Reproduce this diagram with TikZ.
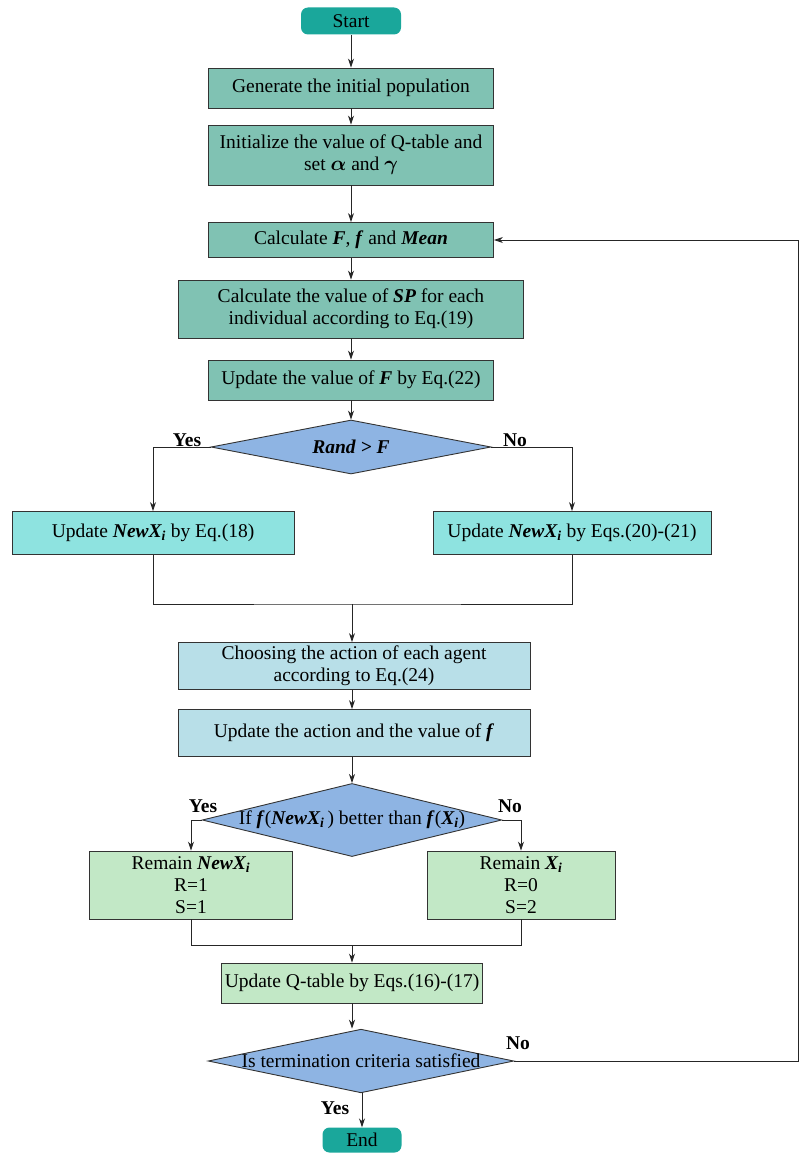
\documentclass[tikz,border=0pt]{standalone}
\usepackage{amsmath}
\usepackage{fontspec}
\setmainfont{Liberation Serif}
\usetikzlibrary{shapes.geometric,arrows.meta}
\definecolor{cstart}{HTML}{1AA79B}
\definecolor{cteal}{HTML}{80C2B3}
\definecolor{cblue}{HTML}{8EB4E3}
\definecolor{ccyan}{HTML}{8EE3E0}
\definecolor{clblue}{HTML}{B8DFE8}
\definecolor{cgreen}{HTML}{C2E8C6}
\begin{document}
\begin{tikzpicture}[x=1pt,y=-1pt,
  every node/.style={font=\fontsize{19.5}{22}\selectfont},
  box/.style={draw=black!80,line width=0.9pt,minimum height=#1,align=center,inner sep=2pt},
  box/.default=40,
  dia/.style={diamond,draw=black!80,fill=cblue,line width=0.9pt,aspect=4.8,inner sep=0pt},
  arr/.style={-{Stealth[length=9pt,width=6pt]},line width=0.9pt,draw=black!85},
  ln/.style={line width=0.9pt,draw=black!85},
  lbl/.style={font=\fontsize{19.5}{22}\selectfont\bfseries}]
\useasboundingbox (0,0) rectangle (811,1161);
\node[fill=cstart,rounded corners=7pt,minimum width=100,minimum height=27] (start) at (351,21) {Start};
\node[box,fill=cteal,minimum width=285] (gen) at (351,88) {Generate the initial population};
\node[box=60,fill=cteal,minimum width=285] (init) at (351,155) {Initialize the value of Q-table and\\set $\boldsymbol{\alpha}$ and $\boldsymbol{\gamma}$};
\node[box=35,fill=cteal,minimum width=285] (calc) at (351,240) {Calculate \textbf{\textit{F}}, \textbf{\textit{f}} and \textbf{\textit{Mean}}};
\node[box=58,fill=cteal,minimum width=345] (sp) at (351,309) {Calculate the value of \textbf{\textit{SP}} for each\\individual according to Eq.(19)};
\node[box,fill=cteal,minimum width=285] (upf) at (351,380) {Update the value of \textbf{\textit{F}} by Eq.(22)};
\node[dia,minimum width=280,minimum height=54] (rand) at (351,447) {\textbf{\textit{Rand > F}}};
\node[box=43,fill=ccyan,minimum width=282] (l18) at (153,533) {Update \textbf{\textit{NewX\textsubscript{i}}} by Eq.(18)};
\node[box=43,fill=ccyan,minimum width=278] (r20) at (572,533) {Update \textbf{\textit{NewX\textsubscript{i}}} by Eqs.(20)-(21)};
\coordinate (m1) at (352,604);
\node[box=47,fill=clblue,minimum width=352] (choose) at (354,666) {Choosing the action of each agent\\according to Eq.(24)};
\node[box=47,fill=clblue,minimum width=352] (upa) at (354,733) {Update the action and the value of \textbf{\textit{f}}};
\node[dia,minimum width=280,minimum height=68,aspect=4.1] (ifd) at (352,820) {If \textbf{\textit{f}}(\textbf{\textit{NewX\textsubscript{i}}}\,) better than \textbf{\textit{f}}(\textbf{\textit{X\textsubscript{i}}})};
\node[box=68,fill=cgreen,minimum width=203,align=center] (rn) at (191,885) {Remain \textbf{\textit{NewX\textsubscript{i}}}\\R=1\\S=1};
\node[box=68,fill=cgreen,minimum width=188,align=center] (rx) at (521,885) {Remain \textbf{\textit{X\textsubscript{i}}}\\R=0\\S=2};
\coordinate (m2) at (352,945);
\node[box,fill=cgreen,minimum width=261] (q) at (352,983) {Update Q-table by Eqs.(16)-(17)};
\node[dia,minimum width=278,minimum height=62] (term) at (361,1061) {Is termination criteria satisfied};
\node[fill=cstart,rounded corners=7pt,minimum width=79,minimum height=25] (end) at (362,1140) {End};
\coordinate (fb1) at (798,1061);
\coordinate (fb2) at (798,240);
\draw[arr] (start) -- (gen);
\draw[arr] (gen) -- (init);
\draw[arr] (init) -- (calc);
\draw[arr] (calc) -- (sp);
\draw[arr] (sp) -- (upf);
\draw[arr] (upf) -- (rand);
\draw[arr] (rand.west) -| (l18.north);
\draw[arr] (rand.east) -| (r20.north);
\draw[ln] (l18.south) |- (m1) -| (r20.south);
\draw[arr] (m1) -- (choose.north -| m1);
\draw[arr] (choose.south -| m1) -- (upa.north -| m1);
\draw[arr] (upa.south -| m1) -- (ifd.north);
\draw[arr] (ifd.west) -| (rn.north);
\draw[arr] (ifd.east) -| (rx.north);
\draw[ln] (rn.south) |- (m2) -| (rx.south);
\draw[arr] (m2) -- (q.north -| m2);
\draw[arr] (q.south -| m2) -- (term.north -| m2);
\draw[arr] (term.south -| end) -- (end);
\draw[ln] (term.east) -- (fb1) -- (fb2);
\draw[arr] (fb2) -- (calc.east);
\node[lbl] at (187,440) {Yes};
\node[lbl] at (515,440) {No};
\node[lbl] at (203,806) {Yes};
\node[lbl] at (510,806) {No};
\node[lbl] at (335,1108) {Yes};
\node[lbl] at (518,1043) {No};
\end{tikzpicture}
\end{document}
